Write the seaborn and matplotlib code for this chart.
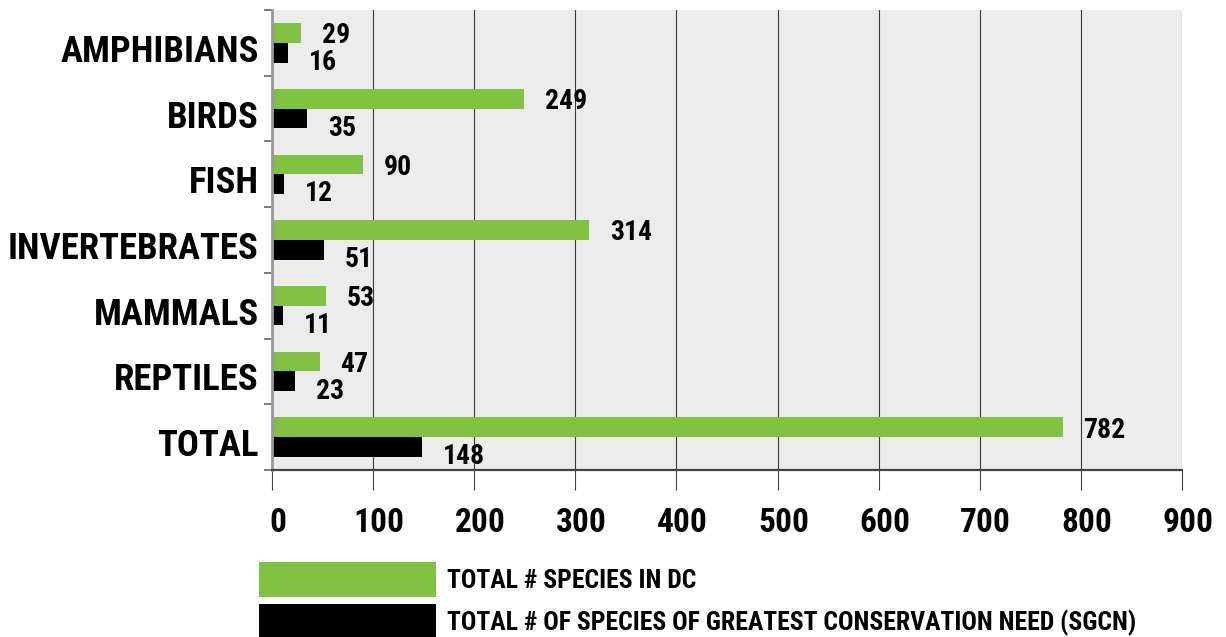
import numpy as np
import pandas as pd
import matplotlib
matplotlib.use("Agg")
import matplotlib.pyplot as plt
from matplotlib.transforms import ScaledTranslation
import seaborn as sns

# data
categories = ["AMPHIBIANS", "BIRDS", "FISH", "INVERTEBRATES", "MAMMALS", "REPTILES", "TOTAL"]
total_species = [29, 249, 90, 314, 53, 47, 782]
sgcn_species = [16, 35, 12, 51, 11, 23, 148]
series_names = ["TOTAL # SPECIES IN DC",
                "TOTAL # OF SPECIES OF GREATEST CONSERVATION NEED (SGCN)"]
series_colors = ["#80c242", "#000000"]
x_ticks = [0, 100, 200, 300, 400, 500, 600, 700, 800, 900]

FONT = ["Roboto Condensed", "DejaVu Sans"]
WEIGHT = "black"
plt.rcParams["font.family"] = FONT
plt.rcParams["font.weight"] = WEIGHT

df = pd.DataFrame({
    "category": categories * 2,
    "count": total_species + sgcn_species,
    "series": [series_names[0]] * len(categories) + [series_names[1]] * len(categories),
})

W, H = 1226, 637
fig = plt.figure(figsize=(W / 100, H / 100), dpi=100)
ax = fig.add_axes([272 / W, 1 - 470 / H, 910 / W, 460 / H])
ax.set_facecolor("#ececec")

sns.barplot(data=df, y="category", x="count", hue="series", order=categories,
            hue_order=series_names, palette=series_colors, orient="h",
            width=0.6, saturation=1, linewidth=0, ax=ax)

# value labels next to the bars
for i, cont in enumerate(ax.containers):
    texts = ax.bar_label(cont, padding=15, fontsize=20, fontweight=WEIGHT)
    for t in texts:
        t.xyann = (15, -2) if i == 0 else (15, -7)

# axes styling
ax.set_xlim(0, 900)
ax.set_ylim(len(categories) - 0.5, -0.5)
ax.set_xticks(x_ticks)
ax.set_xticklabels([str(v) for v in x_ticks])
ax.set_yticks(np.arange(-0.5, len(categories), 1))
ax.set_yticklabels([""] * (len(categories) + 1))
ax.set_yticks(np.arange(len(categories)), categories, minor=True)
ax.tick_params(axis="y", which="major", length=6, width=1.2, color="#666666", direction="out")
ax.tick_params(axis="y", which="minor", length=0, pad=9.5, labelsize=26.5)
ax.tick_params(axis="x", length=14.4, width=0.8, color="#444444", pad=12, labelsize=24)
ax.xaxis.grid(True, color="#3a3a3a", linewidth=0.8)
ax.set_axisbelow(True)
ax.set_xlabel("")
ax.set_ylabel("")

# small nudges so labels sit where the original has them
shift_x = ScaledTranslation(6 / 100, 0, fig.dpi_scale_trans)
for lab in ax.get_xticklabels():
    lab.set_transform(lab.get_transform() + shift_x)
shift_y = ScaledTranslation(0, -5 / 100, fig.dpi_scale_trans)
for lab in ax.get_yticklabels(minor=True):
    lab.set_transform(lab.get_transform() + shift_y)

for side in ["top", "right"]:
    ax.spines[side].set_visible(False)
ax.spines["left"].set_color("#999999")
ax.spines["left"].set_linewidth(2)
ax.spines["bottom"].set_color("#444444")
ax.spines["bottom"].set_linewidth(1.6)

# legend below the plot
handles, labels = ax.get_legend_handles_labels()
if ax.legend_ is not None:
    ax.legend_.remove()
fig.legend(handles, labels, loc="upper left", bbox_to_anchor=(259 / W, 1 - 562 / H),
           frameon=False, prop={"family": FONT, "weight": WEIGHT, "size": 18.5},
           handlelength=6.9, handleheight=1.72, handletextpad=0.43,
           labelspacing=0.27, borderpad=0, borderaxespad=0)

fig.savefig("out.png", dpi=100)
